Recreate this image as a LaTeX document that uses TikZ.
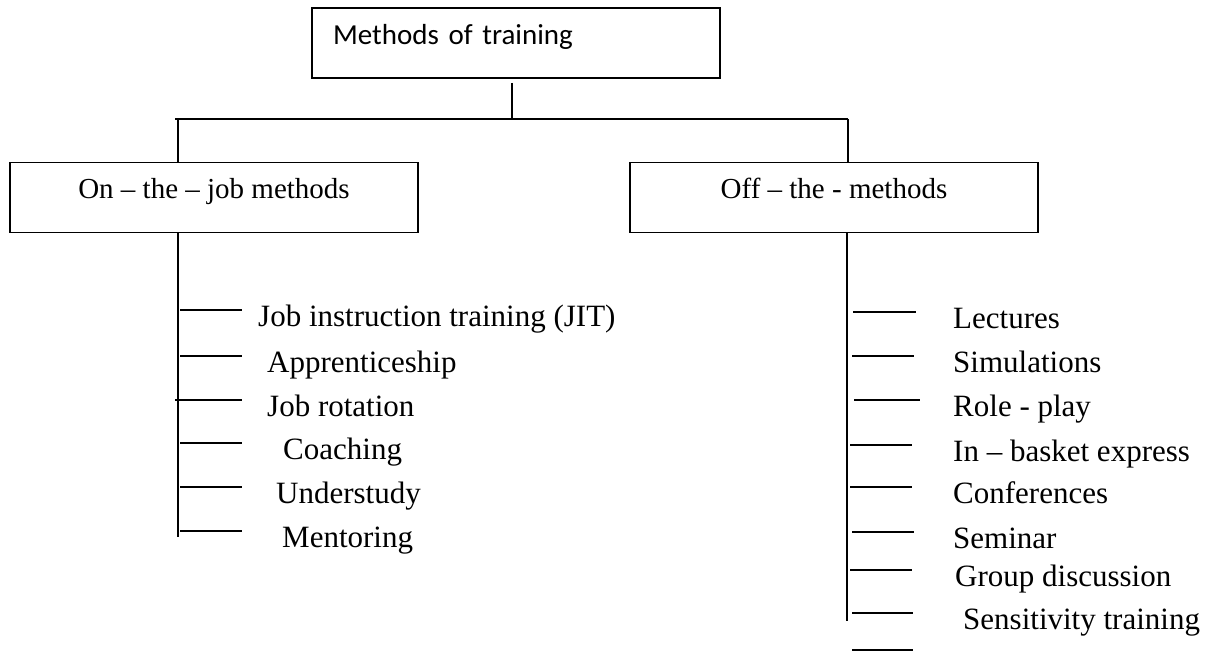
\documentclass[tikz,border=0pt]{standalone}
\usepackage{fontspec}
\setmainfont{Liberation Serif}
\newfontfamily\headfont{Carlito}

\begin{document}
\begin{tikzpicture}[x=1pt,y=-1pt,
  headbox/.style={draw, line width=1.8pt, minimum height=70pt, minimum width=408pt,
    inner sep=0pt, text height=0.6em, text depth=0.43em, font=\fontsize{29}{34}\selectfont},
  item/.style={anchor=base west, inner sep=0pt, font=\fontsize{31}{36}\selectfont},
  link/.style={line width=1.8pt},
  tick/.style={line width=1.8pt}]
\useasboundingbox (0,0) rectangle (1211,658);

% boxes
\node[headbox, text width=366pt, align=left, text height=0.7em, text depth=0.35em,
  font=\headfont\fontsize{29}{34}\selectfont]
  (top) at (516,43) {Methods of training};
\node[headbox] (on)  at (214,197.5) {On -- the -- job methods};
\node[headbox] (off) at (834,197.5) {Off -- the - methods};

% junctions of the tree
\coordinate (hm) at (512,119);
\coordinate (hl) at (175,119);
\coordinate (hr) at (848,119);
\coordinate (lj) at (178,119);
\coordinate (ls) at (178,537);
\coordinate (rs) at (847,621);

\draw[link] ([yshift=-4pt]top.south -| hm) -- (hm);
\draw[link] (hl) -- (hr);
\draw[link] (lj) -- (lj |- on.north);
\draw[link] (hr) -- (hr |- off.north);
\draw[link] (ls |- on.south) -- (ls);
\draw[link] (rs |- off.south) -- (rs);

% on-the-job list
\foreach [count=\i] \ty/\tx/\a/\b/\txt in {
  310/258/180/242/Job instruction training (JIT),
  356/267/180/242/Apprenticeship,
  400/267/175/242/Job rotation,
  443/283/180/242/Coaching,
  487/276/180/242/Understudy,
  531/282/180/242/Mentoring}{
  \coordinate (la\i) at (\a,\ty);
  \coordinate (lb\i) at (\b,\ty);
  \draw[tick] (la\i) -- (lb\i);
  \node[item] (li\i) at (\tx,\ty+16) {\txt};
}

% off-the-job list
\foreach [count=\i] \ty/\tx/\a/\b/\txt in {
  312/953/853/916/Lectures,
  356/953/852/914/Simulations,
  400/953/854/920/Role - play,
  445/953/850/912/In -- basket express,
  487/953/850/912/Conferences,
  532/953/852/914/Seminar,
  570/955/850/912/Group discussion,
  613/963/852/913/Sensitivity training}{
  \coordinate (ra\i) at (\a,\ty);
  \coordinate (rb\i) at (\b,\ty);
  \draw[tick] (ra\i) -- (rb\i);
  \node[item] (ri\i) at (\tx,\ty+16) {\txt};
}
\coordinate (ra9) at (852,650);
\coordinate (rb9) at (913,650);
\draw[tick] (ra9) -- (rb9);
\end{tikzpicture}
\end{document}
